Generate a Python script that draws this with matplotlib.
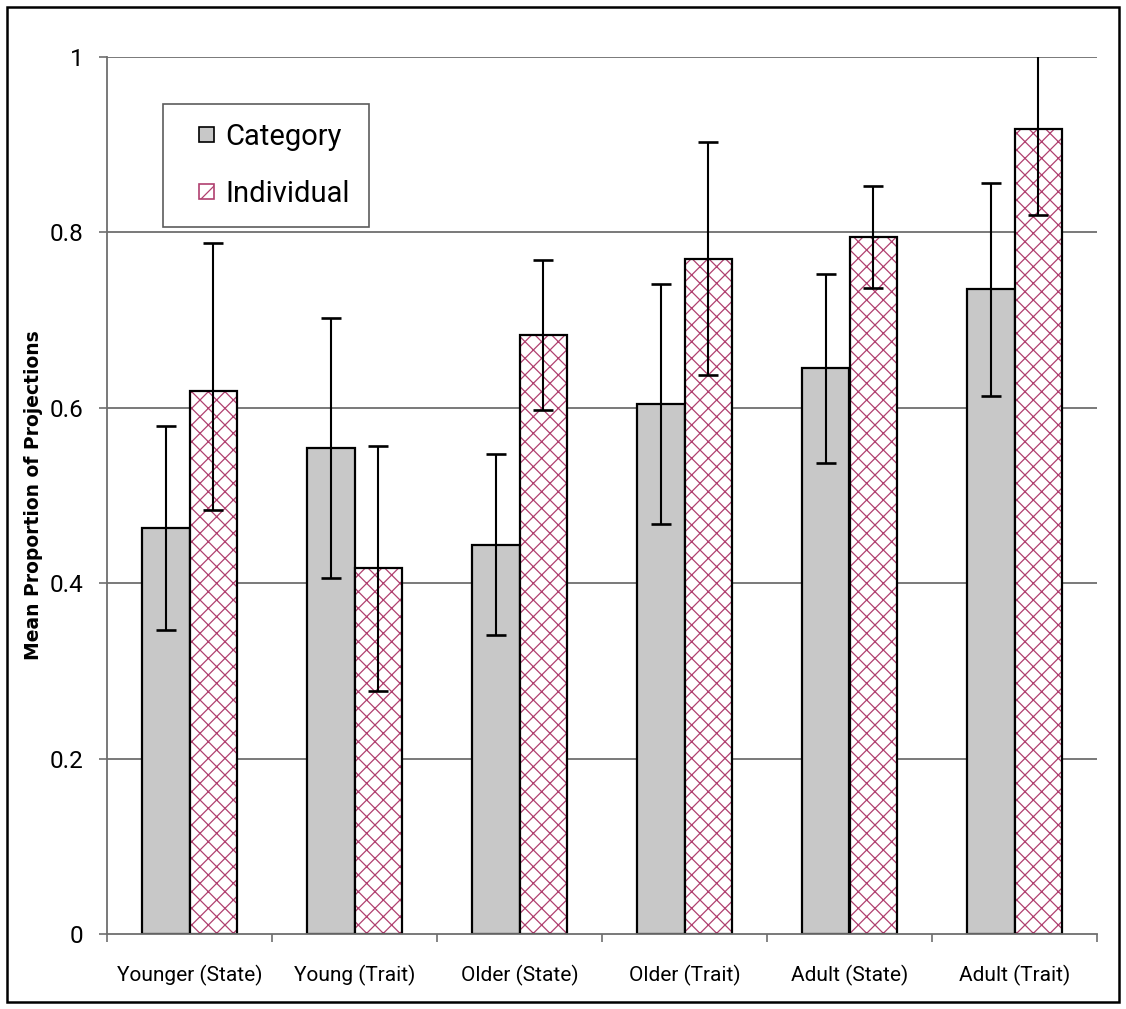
import matplotlib
matplotlib.use("Agg")
import matplotlib.pyplot as plt
import numpy as np
from matplotlib.patches import Rectangle
from matplotlib.legend_handler import HandlerPatch

categories = ["Younger (State)", "Young (Trait)", "Older (State)",
              "Older (Trait)", "Adult (State)", "Adult (Trait)"]
category_vals = [0.463, 0.554, 0.444, 0.604, 0.645, 0.735]
category_err = [0.116, 0.148, 0.103, 0.137, 0.108, 0.121]
individual_vals = [0.619, 0.417, 0.683, 0.770, 0.795, 0.918]
individual_err_low = [0.135, 0.140, 0.085, 0.133, 0.058, 0.098]
individual_err_high = [0.169, 0.140, 0.085, 0.133, 0.058, 0.098]
yticks = [0, 0.2, 0.4, 0.6, 0.8, 1]
ytick_labels = ["0", "0.2", "0.4", "0.6", "0.8", "1"]
series_names = ["Category", "Individual"]
ylabel = "Mean Proportion of Projections"

narrow = ["Roboto", "DejaVu Sans"]
pink = '#B0406F'
plt.rcParams['hatch.linewidth'] = 0.9

fig = plt.figure(figsize=(11.26, 10.09), dpi=100)
ax = fig.add_axes([107/1126, 75/1009, 990/1126, 877/1009])

x = np.arange(len(categories))
w = 0.288
grid_c = '#6E6E6E'

for yv in yticks[1:]:
    ax.axhline(yv, color=grid_c, lw=1.3, zorder=1)

ekw = dict(ecolor='black', elinewidth=1.5, capsize=7, capthick=1.9)
ax.bar(x - w/2, category_vals, w, color='#C8C8C8', edgecolor='black',
       linewidth=1.6, zorder=2)
# hatched fill (pink hatch), then black outline on top
ax.bar(x + w/2, individual_vals, w, color='white', edgecolor=pink,
       hatch='xx', linewidth=0, zorder=2)
ax.bar(x + w/2, individual_vals, w, fill=False, edgecolor='black',
       linewidth=1.6, zorder=2.5)
ax.errorbar(x - w/2, category_vals, yerr=category_err, fmt='none', zorder=3, **ekw)
ax.errorbar(x + w/2, individual_vals,
            yerr=[individual_err_low, individual_err_high],
            fmt='none', zorder=3, **ekw)

# legend proxies
h1 = Rectangle((0, 0), 1, 1, facecolor='#C8C8C8', edgecolor='black', linewidth=1.2)
h2 = Rectangle((0, 0), 1, 1, facecolor='white', edgecolor=pink, hatch='x', linewidth=1.2)


def square(legend, orig_handle, xdescent, ydescent, width, height, fontsize):
    s = 0.52 * fontsize
    return Rectangle((-xdescent + width - s, -ydescent + (height - s) / 2), s, s)


ax.set_xlim(-0.5, len(categories) - 0.5)
ax.set_ylim(0, 1)
ax.set_yticks(yticks)
ax.set_yticklabels(ytick_labels, fontfamily=narrow, fontsize=17.5)
ax.set_xticks(x)
ax.set_xticklabels(categories, fontfamily=narrow, fontsize=15)
ax.set_xticks(np.arange(len(categories) + 1) - 0.5, minor=True)
ax.tick_params(axis='x', which='major', length=0, pad=22)
ax.tick_params(axis='x', which='minor', length=6, width=1.2, color=grid_c, direction='out')
ax.tick_params(axis='y', length=6, width=1.2, color=grid_c, direction='out', pad=11)

for s in ['top', 'right']:
    ax.spines[s].set_visible(False)
for s in ['left', 'bottom']:
    ax.spines[s].set_color(grid_c)
    ax.spines[s].set_linewidth(1.3)
ax.spines['bottom'].set_zorder(4)

fig.text(34/1126, 1 - 495/1009, ylabel, rotation=90, ha='center', va='center',
         fontfamily='DejaVu Sans', fontweight='bold', fontsize=13.5)

leg = ax.legend([h1, h2], series_names, loc='upper left',
                bbox_to_anchor=(56/990, (934-104)/877),
                borderaxespad=0, frameon=True, fancybox=False, shadow=False,
                prop={'family': narrow, 'size': 21}, handlelength=1.1,
                handleheight=0.7, handletextpad=0.4, labelspacing=1.0,
                borderpad=0.65,
                handler_map={Rectangle: HandlerPatch(patch_func=square)})
leg.get_frame().set_edgecolor('#333333')
leg.get_frame().set_linewidth(1.2)

fig.patches.append(Rectangle((7/1126, 7/1009), 1112/1126, 995/1009,
                             transform=fig.transFigure, fill=False,
                             edgecolor='black', linewidth=1.8))

fig.savefig("out.png", dpi=100)
